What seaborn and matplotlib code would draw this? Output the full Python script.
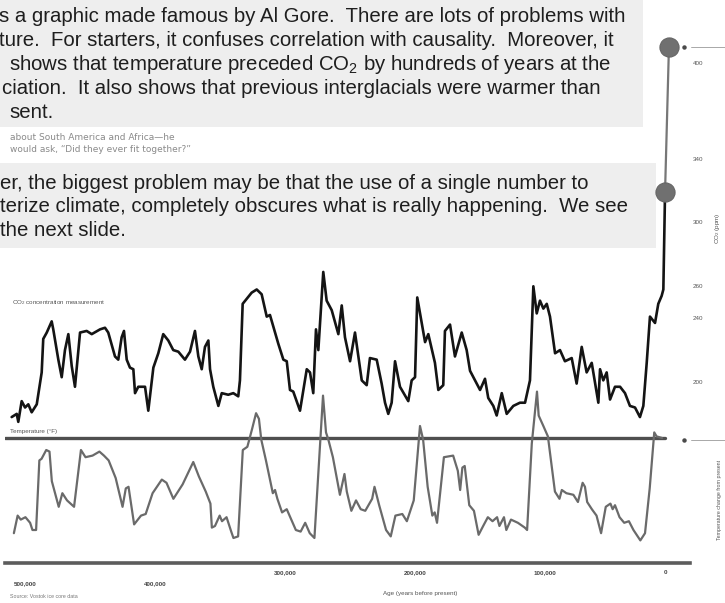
import matplotlib
matplotlib.use("Agg")
import matplotlib.pyplot as plt
from matplotlib.patches import Rectangle
from matplotlib.lines import Line2D
import seaborn as sns
import pandas as pd

# ---------------- data ----------------
co2_age_kyr = [501.8, 497.9, 496.7, 494.1, 491.5, 489.0, 486.4, 482.5, 478.7, 477.5,
               474.8, 471.0, 469.8, 465.9, 463.3, 460.8, 458.2, 455.6, 453.1, 449.2,
               444.1, 440.2, 433.8, 430.0, 427.5, 422.3, 419.8, 417.2, 415.4, 413.3,
               410.8, 408.2, 406.9, 404.4, 399.2, 396.7, 392.8, 389.0, 385.2, 381.3,
               377.5, 373.6, 368.5, 364.6, 360.8, 358.2, 355.6, 353.1, 350.5, 349.2,
               346.7, 342.8, 340.2, 335.2, 331.3, 327.5, 326.2, 324.1, 317.2, 313.3,
               309.5, 305.6, 303.1, 296.7, 292.8, 290.2, 287.7, 285.2, 281.3, 280.0,
               274.8, 272.3, 269.8, 267.7, 265.9, 262.1, 259.5, 255.6, 250.5, 247.9,
               245.4, 241.5, 237.7, 232.5, 228.7, 226.2, 221.0, 217.2, 214.6, 212.1,
               209.5, 206.9, 203.1, 196.7, 194.1, 191.5, 189.8, 186.4, 183.8, 181.3,
               176.2, 173.6, 169.8, 168.5, 164.6, 160.8, 155.6, 151.8, 149.2, 141.5,
               137.7, 135.2, 131.3, 128.7, 124.8, 121.0, 115.9, 110.8, 106.9, 103.1,
               100.5, 97.9, 95.4, 92.8, 90.2, 87.7, 83.8, 80.0, 76.2, 71.0,
               67.2, 63.3, 59.5, 55.6, 50.5, 49.2, 46.7, 44.1, 41.5, 37.7,
               33.8, 30.0, 26.2, 22.3, 18.5, 15.9, 13.3, 10.8, 6.9, 4.4,
               1.8, 0.5, -0.8]
co2_ppm = [178, 180, 175, 188, 184, 186, 181, 186, 206, 227,
           231, 238, 233, 214, 203, 220, 230, 210, 197, 231,
           232, 230, 233, 234, 231, 216, 214, 228, 232, 214,
           209, 208, 193, 197, 197, 182, 209, 218, 230, 226,
           220, 219, 214, 219, 232, 216, 208, 222, 226, 208,
           197, 185, 193, 192, 193, 191, 201, 249, 256, 258,
           255, 241, 242, 224, 214, 213, 195, 194, 185, 182,
           208, 206, 193, 233, 220, 269, 251, 245, 230, 248,
           228, 213, 231, 201, 198, 215, 214, 199, 187, 180,
           187, 213, 197, 188, 201, 203, 253, 237, 225, 230,
           212, 195, 198, 232, 236, 216, 231, 220, 207, 195,
           202, 190, 185, 179, 193, 180, 185, 187, 187, 201,
           260, 243, 251, 246, 249, 241, 218, 220, 213, 215,
           199, 222, 206, 212, 187, 208, 201, 206, 189, 197,
           197, 193, 185, 184, 178, 185, 212, 241, 237, 249,
           254, 258, 319]

proj_age_kyr = [-0.8, -3.8]
proj_ppm = [319, 410]

temp_age_kyr = [500.1, 497.2, 494.8, 491.2, 487.6, 485.8, 483.0, 480.5, 478.8, 475.2,
                472.7, 470.9, 468.1, 465.6, 462.8, 459.2, 453.8, 448.5, 445.0, 439.6,
                434.3, 430.8, 427.2, 421.8, 416.5, 414.0, 411.9, 407.6, 402.3, 398.7,
                393.4, 386.3, 382.7, 377.4, 370.3, 362.1, 357.8, 352.5, 348.9, 347.8,
                345.4, 341.8, 340.0, 336.5, 332.9, 331.2, 327.6, 324.0, 320.5, 316.9,
                313.8, 311.6, 309.8, 306.2, 300.9, 299.2, 297.4, 293.8, 290.2, 286.7,
                283.2, 279.5, 276.0, 272.5, 268.9, 262.3, 260.0, 258.2, 254.7, 249.3,
                245.8, 244.0, 240.5, 236.9, 233.3, 229.8, 224.5, 222.7, 219.1, 213.8,
                210.2, 206.6, 201.3, 197.8, 192.5, 187.7, 185.3, 181.8, 178.2, 176.4,
                174.6, 169.3, 162.2, 158.6, 156.8, 155.1, 153.3, 149.8, 146.2, 142.6,
                139.1, 135.5, 131.9, 128.4, 126.6, 123.1, 121.3, 117.7, 112.4, 107.1,
                105.3, 101.7, 97.7, 96.4, 92.8, 89.3, 83.9, 80.4, 78.6, 75.1,
                69.7, 66.2, 62.6, 60.8, 59.1, 55.5, 51.9, 48.4, 44.8, 41.2,
                39.5, 37.7, 34.2, 30.6, 27.0, 23.5, 18.2, 14.6, 11.0, 7.5,
                5.7, 1.5]
temp_f = [-11.9, -9.7, -10.2, -9.9, -10.6, -11.5, -11.5, -2.8, -2.6, -1.5,
          -1.7, -5.4, -7.1, -8.6, -6.9, -7.8, -8.6, -1.5, -2.4, -2.2,
          -1.7, -2.2, -2.8, -5.0, -8.6, -6.3, -6.1, -10.8, -9.7, -9.5,
          -6.9, -5.2, -5.6, -7.6, -5.8, -3.0, -4.8, -6.7, -8.2, -11.2,
          -11.0, -9.7, -10.4, -9.9, -11.7, -12.5, -12.3, -1.5, -1.1, 1.1,
          3.1, 2.4, -0.2, -2.8, -6.9, -6.5, -7.6, -9.3, -8.9, -10.2,
          -11.5, -11.7, -10.6, -11.9, -12.5, 5.3, 0.7, -0.2, -2.4, -7.1,
          -4.5, -6.7, -9.1, -7.8, -8.9, -9.1, -7.6, -6.1, -8.4, -11.5,
          -12.3, -9.7, -9.5, -10.4, -7.8, 1.5, -0.2, -6.1, -9.7, -9.3,
          -10.6, -2.4, -2.2, -4.1, -6.5, -3.7, -3.5, -8.4, -9.1, -12.1,
          -11.0, -9.9, -10.4, -9.9, -11.0, -9.9, -11.5, -10.2, -10.6, -11.2,
          -11.5, -0.7, 5.8, 2.8, 1.5, 0.2, -6.7, -7.6, -6.5, -6.9,
          -7.1, -8.0, -5.6, -6.1, -8.0, -8.9, -9.7, -11.9, -8.6, -8.2,
          -8.9, -8.4, -9.9, -10.6, -10.4, -11.5, -12.8, -11.9, -6.3, 0.7,
          0.2, 0.0]

xtick_values = [500000, 400000, 300000, 200000, 100000, 0]
xtick_labels = ["500,000", "400,000", "300,000", "200,000", "100,000", "0"]
co2_ticks = [200, 240, 260, 300, 340, 400]

top_lines = ["s a graphic made famous by Al Gore.  There are lots of problems with",
             "ture.  For starters, it confuses correlation with causality.  Moreover, it",
             "shows that temperature preceded CO$_{\\mathregular{2}}$ by hundreds of years at the",
             "ciation.  It also shows that previous interglacials were warmer than",
             "sent."]
mid_lines = ["er, the biggest problem may be that the use of a single number to",
             "terize climate, completely obscures what is really happening.  We see",
             "the next slide."]
note_lines = ["about South America and Africa\u2014he",
              "would ask, \u201cDid they ever fit together?\u201d"]

# ---------------- style ----------------
sns.set_style("white")
plt.rcParams["font.family"] = ["Liberation Sans", "DejaVu Sans"]
plt.rcParams["mathtext.fontset"] = "custom"
plt.rcParams["mathtext.rm"] = "Liberation Sans"
plt.rcParams["mathtext.it"] = "Liberation Sans:italic"
plt.rcParams["mathtext.bf"] = "Liberation Sans:bold"

W, H = 725, 603
fig = plt.figure(figsize=(W / 100, H / 100), dpi=100)
fig.patch.set_facecolor("white")


def fx(px):
    return px / W


def fy(py):
    return 1 - py / H


# text boxes
fig.add_artist(Rectangle((fx(0), fy(127)), fx(643), 127 / H, transform=fig.transFigure,
                         facecolor="#eeeeee", edgecolor="none", zorder=0))
fig.add_artist(Rectangle((fx(0), fy(248)), fx(656), (248 - 163) / H, transform=fig.transFigure,
                         facecolor="#eeeeee", edgecolor="none", zorder=0))

body_size = 14.7
top_x = [-1, -1, 9, 2, 9]
top_y = [17, 41, 65, 89, 113]
for s, x, y in zip(top_lines, top_x, top_y):
    fig.text(fx(x), fy(y), s, fontsize=body_size, color="#1e1e1e", ha="left", va="center")
mid_x = [0, 0, 0]
mid_y = [183, 207, 231]
for s, x, y in zip(mid_lines, mid_x, mid_y):
    fig.text(fx(x), fy(y), s, fontsize=body_size, color="#1e1e1e", ha="left", va="center")
for s, y in zip(note_lines, [137, 150]):
    fig.text(fx(10), fy(y), s, fontsize=6.5, color="#8a8a8a", ha="left", va="center",
             family=["DejaVu Sans"])

# ---------------- chart ----------------
ax = fig.add_axes([fx(5), fy(563), fx(690) - fx(5), fy(30) - fy(563)])
ax2 = ax.twinx()
for a in (ax, ax2):
    a.patch.set_visible(False)

co2_df = pd.DataFrame({"age": [a * 1000 for a in co2_age_kyr], "ppm": co2_ppm})
proj_df = pd.DataFrame({"age": [a * 1000 for a in proj_age_kyr], "ppm": proj_ppm})
temp_df = pd.DataFrame({"age": [a * 1000 for a in temp_age_kyr], "temp": temp_f})

sns.lineplot(data=temp_df, x="age", y="temp", ax=ax2, color="#6a6a6a", lw=1.6,
             sort=False, estimator=None)
ax2.axhline(0, xmin=0, xmax=(665 - 5) / 685, color="#4f4f4f", lw=2.4, zorder=1)

sns.lineplot(data=proj_df, x="age", y="ppm", ax=ax, color="#777777", lw=1.6,
             sort=False, estimator=None)
sns.lineplot(data=co2_df, x="age", y="ppm", ax=ax, color="#141414", lw=1.9,
             sort=False, estimator=None)
sns.scatterplot(data=proj_df, x="age", y="ppm", ax=ax, color="#707070", s=190,
                edgecolor="#666666", linewidth=0.8, zorder=5)

ax.set_xlim(506923, -20000)
ax.set_ylim(86.5, 420.7)
ax2.set_ylim(-15.625, 51.0)

ax.set_xlabel("")
ax.set_ylabel("")
ax2.set_ylabel("")
ax2.set_yticks([])
for sp in ax2.spines.values():
    sp.set_visible(False)
for side in ("top", "left", "right"):
    ax.spines[side].set_visible(False)
ax.spines["bottom"].set_color("#5c5c5c")
ax.spines["bottom"].set_linewidth(2.6)

ax.yaxis.tick_right()
ax.set_yticks(co2_ticks)
ax.set_yticklabels([str(v) for v in co2_ticks])
ax.tick_params(axis="y", length=0, pad=2, labelsize=4.5, labelcolor="#555555")

ax.set_xticks(xtick_values)
ax.set_xticklabels(xtick_labels)
ax.tick_params(axis="x", length=0, labelsize=4.5, labelcolor="#444444")
for lab in ax.get_xticklabels():
    lab.set_ha("left")
    lab.set_fontweight("bold")
for i, t in enumerate(ax.xaxis.get_major_ticks()):
    t.set_pad(13 if i < 2 else 5)

# small annotations
fig.text(fx(12), fy(303), "CO$_2$ concentration measurement", fontsize=4.5,
         color="#555555", ha="left", va="center")
fig.text(fx(10), fy(432), "Temperature (\u00b0F)", fontsize=4.5, color="#555555",
         ha="left", va="center")
fig.text(fx(718), fy(228), "CO$_2$ (ppm)", fontsize=4.5, color="#555555",
         rotation=90, ha="center", va="center")
fig.text(fx(719), fy(500), "Temperature change from present", fontsize=3.8,
         color="#555555", rotation=90, ha="center", va="center")
fig.text(fx(420), fy(594), "Age (years before present)", fontsize=4.5, color="#555555",
         ha="center", va="center")
fig.text(fx(10), fy(596), "Source: Vostok ice core data", fontsize=3.8, color="#777777",
         ha="left", va="center")

for yy in (47, 440):
    fig.add_artist(Line2D([fx(691), fx(725)], [fy(yy), fy(yy)], color="#9a9a9a", lw=0.6,
                          transform=fig.transFigure))
    fig.add_artist(Line2D([fx(684)], [fy(yy)], marker="o", ms=2.2, color="#4a4a4a",
                          transform=fig.transFigure))

fig.savefig("out.png", dpi=100)
